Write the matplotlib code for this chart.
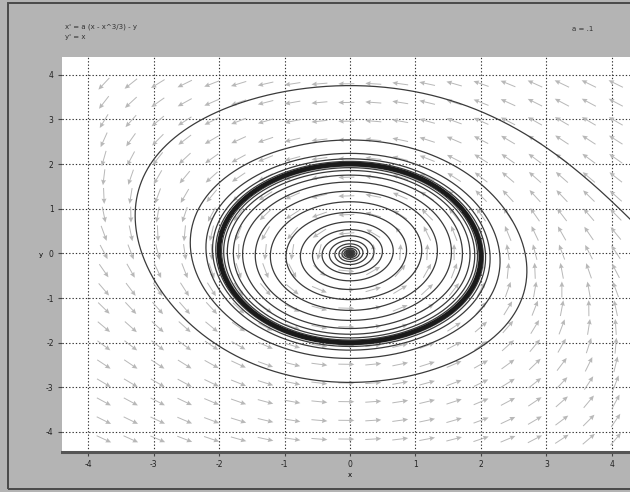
import numpy as np
import matplotlib
matplotlib.use("Agg")
import matplotlib.pyplot as plt
from matplotlib.patches import Rectangle

# Van der Pol system in Lienard form
a = 0.1
eq_x = "x' = a (x - x^3/3) - y"
eq_y = "y' = x"
param_text = "a = .1"

x_ticks = [-4, -3, -2, -1, 0, 1, 2, 3, 4]
y_ticks = [-4, -3, -2, -1, 0, 1, 2, 3, 4]
x_lim = (-4.4, 4.4)
y_lim = (-4.45, 4.4)

# initial points of the computed solutions (x0, y0, forward time, backward time)
starts_x = [0.03, 4.38, 2.0]
starts_y = [0.0, 0.62, 0.0]
t_fwd = [120.0, 80.0, 40.0]
t_bwd = [0.0, 5.0, 0.0]


def field(x, y):
    return a * (x - x ** 3 / 3.0) - y, x


def solve(x0, y0, t_end, direction, dt=0.01):
    xs, ys = [x0], [y0]
    x, y = x0, y0
    h = dt * direction
    n = int(t_end / dt)
    for _ in range(n):
        k1 = field(x, y)
        k2 = field(x + h * k1[0] / 2, y + h * k1[1] / 2)
        k3 = field(x + h * k2[0] / 2, y + h * k2[1] / 2)
        k4 = field(x + h * k3[0], y + h * k3[1])
        x = x + h * (k1[0] + 2 * k2[0] + 2 * k3[0] + k4[0]) / 6
        y = y + h * (k1[1] + 2 * k2[1] + 2 * k3[1] + k4[1]) / 6
        xs.append(x)
        ys.append(y)
        if abs(x) > 6 or abs(y) > 6:
            break
    return np.array(xs), np.array(ys)


W, H = 630, 492
fig = plt.figure(figsize=(W / 100, H / 100), dpi=100)
fig.patch.set_facecolor("#b4b4b4")

# outer frame
fig.add_artist(Rectangle((8 / W, 3 / H), 1.2, (H - 6) / H, transform=fig.transFigure,
                         fill=False, edgecolor="#4a4a4a", linewidth=1.4))

ax_l, ax_r, ax_b, ax_t = 62, 638, 452, 57
ax = fig.add_axes([ax_l / W, 1 - ax_b / H, (ax_r - ax_l) / W, (ax_b - ax_t) / H])
ax.set_facecolor("white")
ax.set_xlim(*x_lim)
ax.set_ylim(*y_lim)

# direction field: arrows of equal screen length
gx = np.linspace(-3.76, 4.06, 20)
gy = np.linspace(-4.16, 3.8, 20)
GX, GY = np.meshgrid(gx, gy)
U, V = field(GX, GY)
sx = (ax_r - ax_l) / (x_lim[1] - x_lim[0])
sy = (ax_b - ax_t) / (y_lim[1] - y_lim[0])
Us, Vs = U * sx, V * sy
L = np.hypot(Us, Vs)
Us, Vs = Us / L, Vs / L
ax.quiver(GX, GY, Us, Vs, angles="uv", scale_units="dots", scale=1 / 16.0,
          pivot="middle", color="#b8b8b8", width=0.0017, headwidth=5,
          headlength=5.5, headaxislength=5, zorder=2)

# solution curves
for x0, y0, tf, tb in zip(starts_x, starts_y, t_fwd, t_bwd):
    if tf > 0:
        xs, ys = solve(x0, y0, tf, 1)
        ax.plot(xs, ys, color="#3a3a3a", linewidth=0.9, zorder=3)
    if tb > 0:
        xs, ys = solve(x0, y0, tb, -1)
        ax.plot(xs, ys, color="#3a3a3a", linewidth=0.9, zorder=3)

# limit cycle drawn heavy
xs, ys = solve(2.0, 0.0, 80, 1)
ax.plot(xs[-1300:], ys[-1300:], color="#1a1a1a", linewidth=2.6, zorder=4)

ax.plot([0], [0], marker="o", markersize=2.5, color="#333333", zorder=5)

ax.set_xticks(x_ticks)
ax.set_yticks(y_ticks)
ax.set_xticklabels([str(t) for t in x_ticks], fontsize=5.5, color="#222222")
ax.set_yticklabels([str(t) for t in y_ticks], fontsize=5.5, color="#222222")
ax.tick_params(length=3, width=0.8, color="#444444", pad=3)
ax.grid(True, color="#333333", linestyle=(0, (1.2, 1.8)), linewidth=0.8)
for s in ["top", "left", "right"]:
    ax.spines[s].set_visible(False)
ax.spines["bottom"].set_color("#555555")
ax.spines["bottom"].set_linewidth(2.2)
ax.set_xlabel("x", fontsize=5, labelpad=2)
ax.set_ylabel("y", fontsize=5, rotation=0, labelpad=4, va="center")

fig.text(65 / W, 1 - 27 / H, eq_x, fontsize=5, color="#333333", va="center")
fig.text(65 / W, 1 - 37 / H, eq_y, fontsize=5, color="#333333", va="center")
fig.text(572 / W, 1 - 29 / H, param_text, fontsize=5, color="#333333", va="center")

fig.savefig("out.png", dpi=100, facecolor=fig.get_facecolor())
